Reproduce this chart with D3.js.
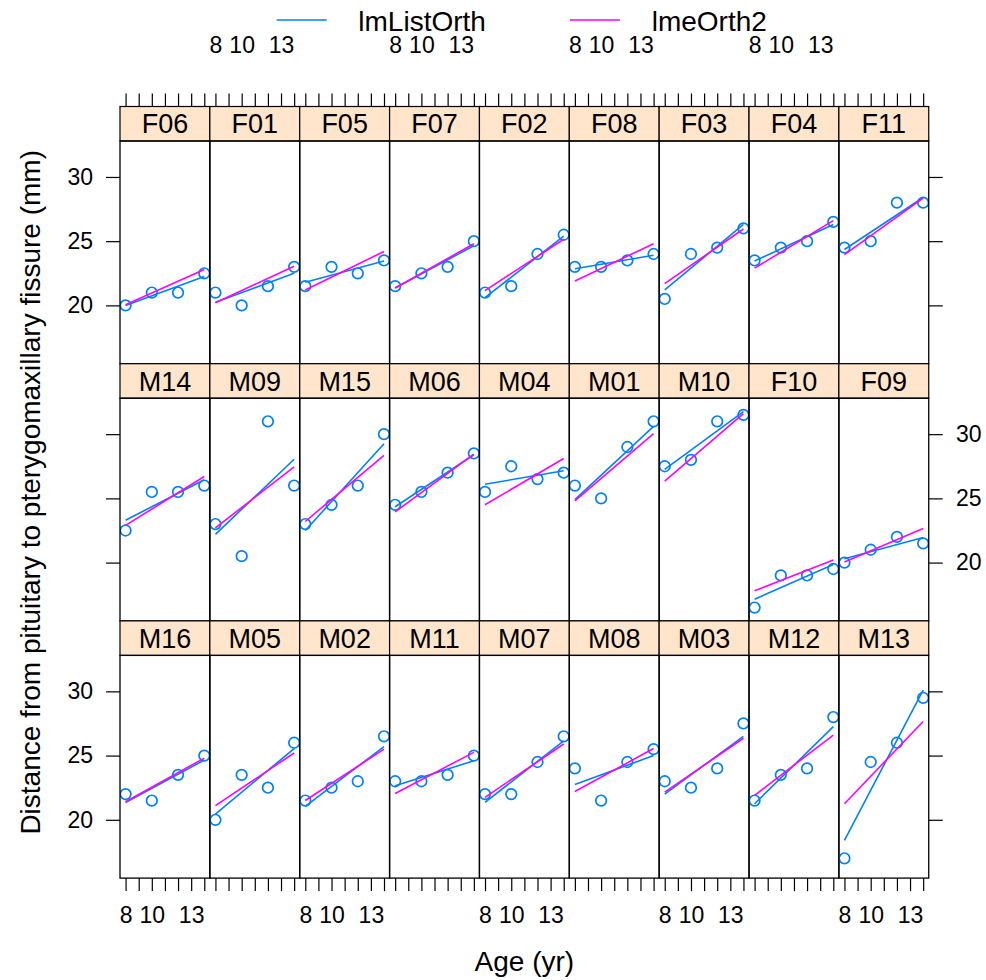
<!DOCTYPE html>
<html>
<head>
<meta charset="utf-8">
<script src="https://cdn.jsdelivr.net/npm/d3@7"></script>
<style>
  html, body { margin: 0; padding: 0; background: #fff; }
  svg { display: block; font-family: "Liberation Sans", Arial, Helvetica, sans-serif; }
</style>
</head>
<body>
<svg id="chart" width="986" height="980"></svg>
<script>
// Orthodont growth data: one panel per subject, laid out row by row from the top.
const subjects = [
  "F06","F01","F05","F07","F02","F08","F03","F04","F11",
  "M14","M09","M15","M06","M04","M01","M10","F10","F09",
  "M16","M05","M02","M11","M07","M08","M03","M12","M13"
];
const ages = [8, 10, 12, 14];
// Measured distance (mm) at each age, aligned with `subjects`
const dist8  = [20, 21, 21.5, 21.5, 21, 23, 20.5, 23.5, 24.5,  22.5, 23, 23, 24.5, 25.5, 26, 27.5, 16.5, 20,  22, 20, 21.5, 23, 22, 24, 23, 21.5, 17];
const dist10 = [21, 20, 23, 22.5, 21.5, 23, 24, 24.5, 25,      25.5, 20.5, 24.5, 25.5, 27.5, 25, 28, 19, 21,  21.5, 23.5, 22.5, 23, 22, 21.5, 22.5, 23.5, 24.5];
const dist12 = [21, 21.5, 22.5, 23, 24, 23.5, 24.5, 25, 28,    25.5, 31, 26, 27, 26.5, 29, 31, 19, 22,        23.5, 22.5, 23, 23.5, 24.5, 24.5, 24, 24, 26];
const dist14 = [22.5, 23, 23.5, 25, 25.5, 24, 26, 26.5, 28,    26, 26, 30, 28.5, 27, 31, 31.5, 19.5, 21.5,    25, 26, 26.5, 25, 26.5, 25.5, 27.5, 28, 29.5];

// Fitted lines, value at age 8 and at age 14
const lmList8  = [20.0, 20.25, 21.8, 21.35, 20.6, 22.85, 21.2, 23.45, 24.35,  23.3, 22.2, 22.5, 24.35, 26.1, 24.9, 27.25, 17.15, 20.3,  21.35, 20.45, 21.05, 22.65, 21.35, 22.75, 22.0, 21.25, 18.4];
const lmList14 = [22.25, 22.5, 23.45, 24.65, 25.4, 23.9, 26.3, 26.3, 28.4,    26.45, 28.05, 29.25, 28.4, 27.15, 30.6, 31.75, 19.85, 21.95, 24.65, 25.55, 25.7, 24.6, 26.15, 25.0, 26.5, 27.25, 30.1];
const lme8     = [20.05, 20.2, 21.2, 21.35, 21.15, 21.9, 21.7, 22.9, 23.95,   22.9, 22.7, 23.2, 23.95, 24.5, 24.8, 26.35, 17.8, 20.05,   21.4, 21.1, 21.5, 22.05, 21.75, 22.2, 22.15, 21.9, 21.25];
const lme14    = [22.8, 23.05, 24.2, 24.8, 25.15, 24.8, 25.95, 26.6, 28.35,   26.7, 27.45, 28.35, 28.45, 28.1, 30.05, 31.6, 20.2, 22.65,  24.8, 25.2, 25.5, 25.25, 25.9, 25.55, 26.35, 26.6, 27.65];

const xTicks = [8, 9, 10, 11, 12, 13, 14];
const xTickLabels = [8, 10, 13];
const yTicks = [20, 25, 30];

const legendItems = ["lmListOrth", "lmeOrth2"];
const legendColors = ["#0080ff", "#ff00ff"];

// Layout
const nCols = 9, nRows = 3;
const gridLeft = 120, colW = 89.86;
const gridTop = 106.5, stripH = 34.5, panelH = 222.7;
const rowTop = r => gridTop + r * (stripH + panelH);
const colLeft = c => gridLeft + c * colW;
const tickFont = 23, mainFont = 28;

const svg = d3.select("#chart");

const x = d3.scaleLinear().domain([7.575, 14.425]).range([0, colW]);
const y = d3.scaleLinear().domain([15.46, 32.8]).range([panelH, 0]);

const defs = svg.append("defs");
defs.append("clipPath").attr("id", "panelClip")
  .append("rect").attr("x", 0).attr("y", 0).attr("width", colW).attr("height", panelH);

function styleAxis(sel) {
  sel.select(".domain").remove();
  sel.selectAll(".tick line").attr("stroke", "#000").attr("stroke-width", 1.2);
  sel.selectAll(".tick text").attr("fill", "#000").attr("font-size", tickFont)
    .attr("font-family", "Liberation Sans, Arial, sans-serif");
}

subjects.forEach((s, i) => {
  const r = Math.floor(i / nCols), c = i % nCols;
  const g = svg.append("g").attr("transform", `translate(${colLeft(c)},${rowTop(r)})`);

  // strip
  g.append("rect").attr("x", 0).attr("y", 0).attr("width", colW).attr("height", stripH)
    .attr("fill", "#ffe5cc").attr("stroke", "#000").attr("stroke-width", 1.2);
  g.append("text").attr("x", colW / 2).attr("y", stripH / 2 + 9.6)
    .attr("text-anchor", "middle").attr("font-size", 27).attr("fill", "#000").text(s);

  // panel
  const p = g.append("g").attr("transform", `translate(0,${stripH})`);
  const inner = p.append("g").attr("clip-path", "url(#panelClip)");

  const pts = ages.map((a, k) => ({ a, d: [dist8, dist10, dist12, dist14][k][i] }));
  inner.selectAll("circle").data(pts).join("circle")
    .attr("cx", d => x(d.a)).attr("cy", d => y(d.d)).attr("r", 5.3)
    .attr("fill", "none").attr("stroke", "#0080ff").attr("stroke-width", 1.7);

  const fits = [[lmList8[i], lmList14[i]], [lme8[i], lme14[i]]];
  fits.forEach((f, k) => {
    inner.append("line")
      .attr("x1", x(8)).attr("y1", y(f[0]))
      .attr("x2", x(14)).attr("y2", y(f[1]))
      .attr("stroke", legendColors[k]).attr("stroke-width", 1.6);
  });

  p.append("rect").attr("x", 0).attr("y", 0).attr("width", colW).attr("height", panelH)
    .attr("fill", "none").attr("stroke", "#000").attr("stroke-width", 1.3);

  // y axes: ticks on both sides, labels alternating
  const showLeftLab = (r !== 1) && c === 0;
  const showRightLab = (r === 1) && c === nCols - 1;
  if (c === 0) {
    const ax = d3.axisLeft(y).tickValues(yTicks).tickSize(14).tickPadding(13).tickSizeOuter(0)
      .tickFormat(d => showLeftLab ? d : "");
    p.append("g").call(ax).call(styleAxis);
  }
  if (c === nCols - 1) {
    const ax = d3.axisRight(y).tickValues(yTicks).tickSize(14).tickPadding(13.3).tickSizeOuter(0)
      .tickFormat(d => showRightLab ? d : "");
    p.append("g").attr("transform", `translate(${colW},0)`).call(ax).call(styleAxis);
  }
  // x axes: top above the first row, bottom below the last row
  if (r === 0) {
    const ax = d3.axisTop(x).tickValues(xTicks).tickSize(13).tickPadding(41).tickSizeOuter(0)
      .tickFormat(d => (c % 2 === 1 && xTickLabels.includes(d)) ? d : "");
    g.append("g").call(ax).call(styleAxis);
  }
  if (r === nRows - 1) {
    const ax = d3.axisBottom(x).tickValues(xTicks).tickSize(13).tickPadding(15.3).tickSizeOuter(0)
      .tickFormat(d => (c % 2 === 0 && xTickLabels.includes(d)) ? d : "");
    p.append("g").attr("transform", `translate(0,${panelH})`).call(ax).call(styleAxis);
  }
});

// legend
const legendX = [[276.7, 326.7, 358.3], [570, 620, 651.7]];
legendItems.forEach((name, k) => {
  svg.append("line").attr("x1", legendX[k][0]).attr("x2", legendX[k][1])
    .attr("y1", 20).attr("y2", 20).attr("stroke", legendColors[k]).attr("stroke-width", 1.6);
  svg.append("text").attr("x", legendX[k][2]).attr("y", 31)
    .attr("font-size", mainFont).attr("fill", "#000").text(name);
});

// axis titles
svg.append("text").attr("x", gridLeft + nCols * colW / 2).attr("y", 971)
  .attr("text-anchor", "middle").attr("font-size", mainFont).attr("fill", "#000").text("Age (yr)");
svg.append("text")
  .attr("transform", `translate(40,${(gridTop + rowTop(nRows - 1) + stripH + panelH) / 2}) rotate(-90)`)
  .attr("text-anchor", "middle").attr("font-size", mainFont).attr("fill", "#000")
  .text("Distance from pituitary to pterygomaxillary fissure (mm)");
</script>
</body>
</html>
